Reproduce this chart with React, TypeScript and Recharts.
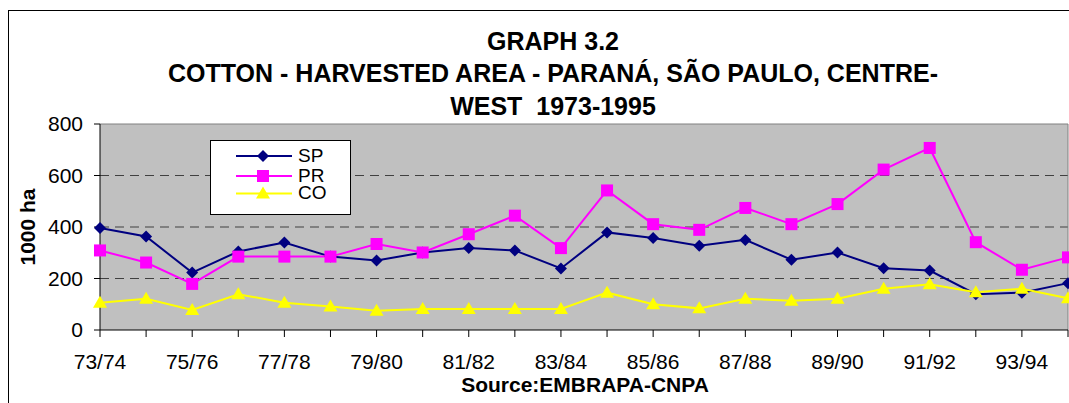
import React from "react";
import {
  LineChart,
  Line,
  XAxis,
  YAxis,
  CartesianGrid,
  ReferenceLine,
  Legend,
} from "recharts";

const categories = [
  "73/74", "74/75", "75/76", "76/77", "77/78", "78/79", "79/80", "80/81",
  "81/82", "82/83", "83/84", "84/85", "85/86", "86/87", "87/88", "88/89",
  "89/90", "90/91", "91/92", "92/93", "93/94", "94/95",
];
const spValues = [396, 363, 223, 305, 340, 285, 270, 301, 318, 309, 239, 379, 357, 327, 350, 273, 301, 240, 231, 139, 145, 182];
const prValues = [309, 262, 179, 285, 285, 285, 334, 301, 372, 444, 318, 542, 411, 389, 474, 411, 489, 623, 707, 341, 234, 282];
const coValues = [106, 121, 78, 139, 106, 91, 75, 82, 82, 82, 82, 145, 100, 84, 121, 114, 121, 160, 178, 147, 160, 123];
const yTicks = [0, 200, 400, 600, 800];

const titleLines = [
  "GRAPH 3.2",
  "COTTON - HARVESTED AREA - PARANÁ, SÃO PAULO, CENTRE-",
  "WEST  1973-1995",
];

const data = categories.map((c, i) => ({
  year: c,
  SP: spValues[i],
  PR: prValues[i],
  CO: coValues[i],
}));

const FONT = "'Liberation Sans', Arial, sans-serif";

type Shape = "diamond" | "square" | "triangle";

function marker(shape: Shape, cx: number, cy: number, color: string, key?: any) {
  if (shape === "diamond") {
    return <path key={key} d={`M${cx},${cy - 6}L${cx + 6},${cy}L${cx},${cy + 6}L${cx - 6},${cy}Z`} fill={color} />;
  }
  if (shape === "square") {
    return <rect key={key} x={cx - 6} y={cy - 6} width={12} height={12} fill={color} />;
  }
  return <path key={key} d={`M${cx},${cy - 7}L${cx + 7},${cy + 5}L${cx - 7},${cy + 5}Z`} fill={color} />;
}

const seriesList: { key: string; color: string; shape: Shape }[] = [
  { key: "SP", color: "#000080", shape: "diamond" },
  { key: "PR", color: "#FF00FF", shape: "square" },
  { key: "CO", color: "#FFFF00", shape: "triangle" },
];

function XTick(props: any) {
  const { x, y, payload, index } = props;
  if (index % 2 !== 0) return <g />;
  return (
    <text x={x} y={y} dy="0.71em" textAnchor="middle" fill="#000" fontSize={21} fontFamily={FONT}>
      {payload.value}
    </text>
  );
}

function ChartLegend() {
  const rows = [16, 36, 53.5];
  const baselines = [21.5, 41.5, 59];
  return (
    <div style={{ width: 141, height: 75, border: "1px solid #000", background: "#fff", boxSizing: "border-box" }}>
      <svg width={141} height={75} style={{ position: "absolute", left: 0, top: 0 }}>
        {seriesList.map((s, i) => (
          <g key={s.key}>
            <line x1={26} x2={82} y1={rows[i]} y2={rows[i]} stroke={s.color} strokeWidth={2} />
            {marker(s.shape, 53, rows[i], s.color)}
            <text x={88} y={baselines[i]} fontSize={19} fontFamily={FONT} fill="#000">
              {s.key}
            </text>
          </g>
        ))}
      </svg>
    </div>
  );
}

export default function App() {
  return (
    <div style={{ position: "fixed", left: 0, top: 0, width: 1069, height: 403, overflow: "hidden", background: "#fff" }}>
      <div
        style={{
          position: "absolute",
          left: 8,
          top: 10,
          width: 1200,
          height: 500,
          border: "1px solid #000",
        }}
      />
      <div style={{ position: "absolute", left: 0, top: 0 }}>
        <LineChart
          width={1069}
          height={403}
          data={data}
          margin={{ top: 124, right: 1, bottom: 43, left: 40 }}
        >
          <CartesianGrid
            vertical={false}
            horizontalValues={[200, 400, 600]}
            stroke="#404040"
            strokeDasharray="9 6"
            fill="#C0C0C0"
          />
          <ReferenceLine y={800} stroke="#808080" strokeWidth={1} />
          <ReferenceLine x="94/95" stroke="#808080" strokeWidth={1} />
          <XAxis
            dataKey="year"
            interval={0}
            padding={{ left: 0, right: 0 }}
            axisLine={{ stroke: "#000" }}
            tickLine={{ stroke: "#000" }}
            tickSize={7}
            tickMargin={17}
            height={30}
            tick={<XTick />}
          />
          <YAxis
            domain={[0, 800]}
            ticks={yTicks}
            width={60}
            axisLine={{ stroke: "#000" }}
            tickLine={{ stroke: "#000" }}
            tickSize={6}
            tickMargin={11}
            tick={{ fill: "#000", fontSize: 21, fontFamily: FONT }}
          />
          <Legend
            layout="vertical"
            align="center"
            verticalAlign="middle"
            wrapperStyle={{ left: 210, top: 140, width: 141, height: 75 }}
            content={() => <ChartLegend />}
          />
          {seriesList.map((s) => (
            <Line
              key={s.key}
              type="linear"
              dataKey={s.key}
              stroke={s.color}
              strokeWidth={2}
              isAnimationActive={false}
              dot={(p: any) => marker(s.shape, p.cx, p.cy, s.color, `${s.key}-${p.index}`)}
              activeDot={false}
            />
          ))}
        </LineChart>
      </div>
      <svg
        width={1069}
        height={403}
        style={{ position: "absolute", left: 0, top: 0, pointerEvents: "none" }}
      >
        {titleLines.map((t, i) => (
          <text
            key={i}
            x={553}
            y={49.5 + i * 32.5}
            textAnchor="middle"
            fontSize={25}
            fontWeight="bold"
            fontFamily={FONT}
            fill="#000"
            style={{ whiteSpace: "pre" }}
          >
            {t}
          </text>
        ))}
        <text
          x={0}
          y={0}
          transform="translate(35, 227) rotate(-90)"
          textAnchor="middle"
          fontSize={21}
          fontWeight="bold"
          fontFamily={FONT}
          fill="#000"
        >
          1000 ha
        </text>
        <text x={585} y={391.5} textAnchor="middle" fontSize={21} fontWeight="bold" fontFamily={FONT} fill="#000">
          Source:EMBRAPA-CNPA
        </text>
      </svg>
    </div>
  );
}
